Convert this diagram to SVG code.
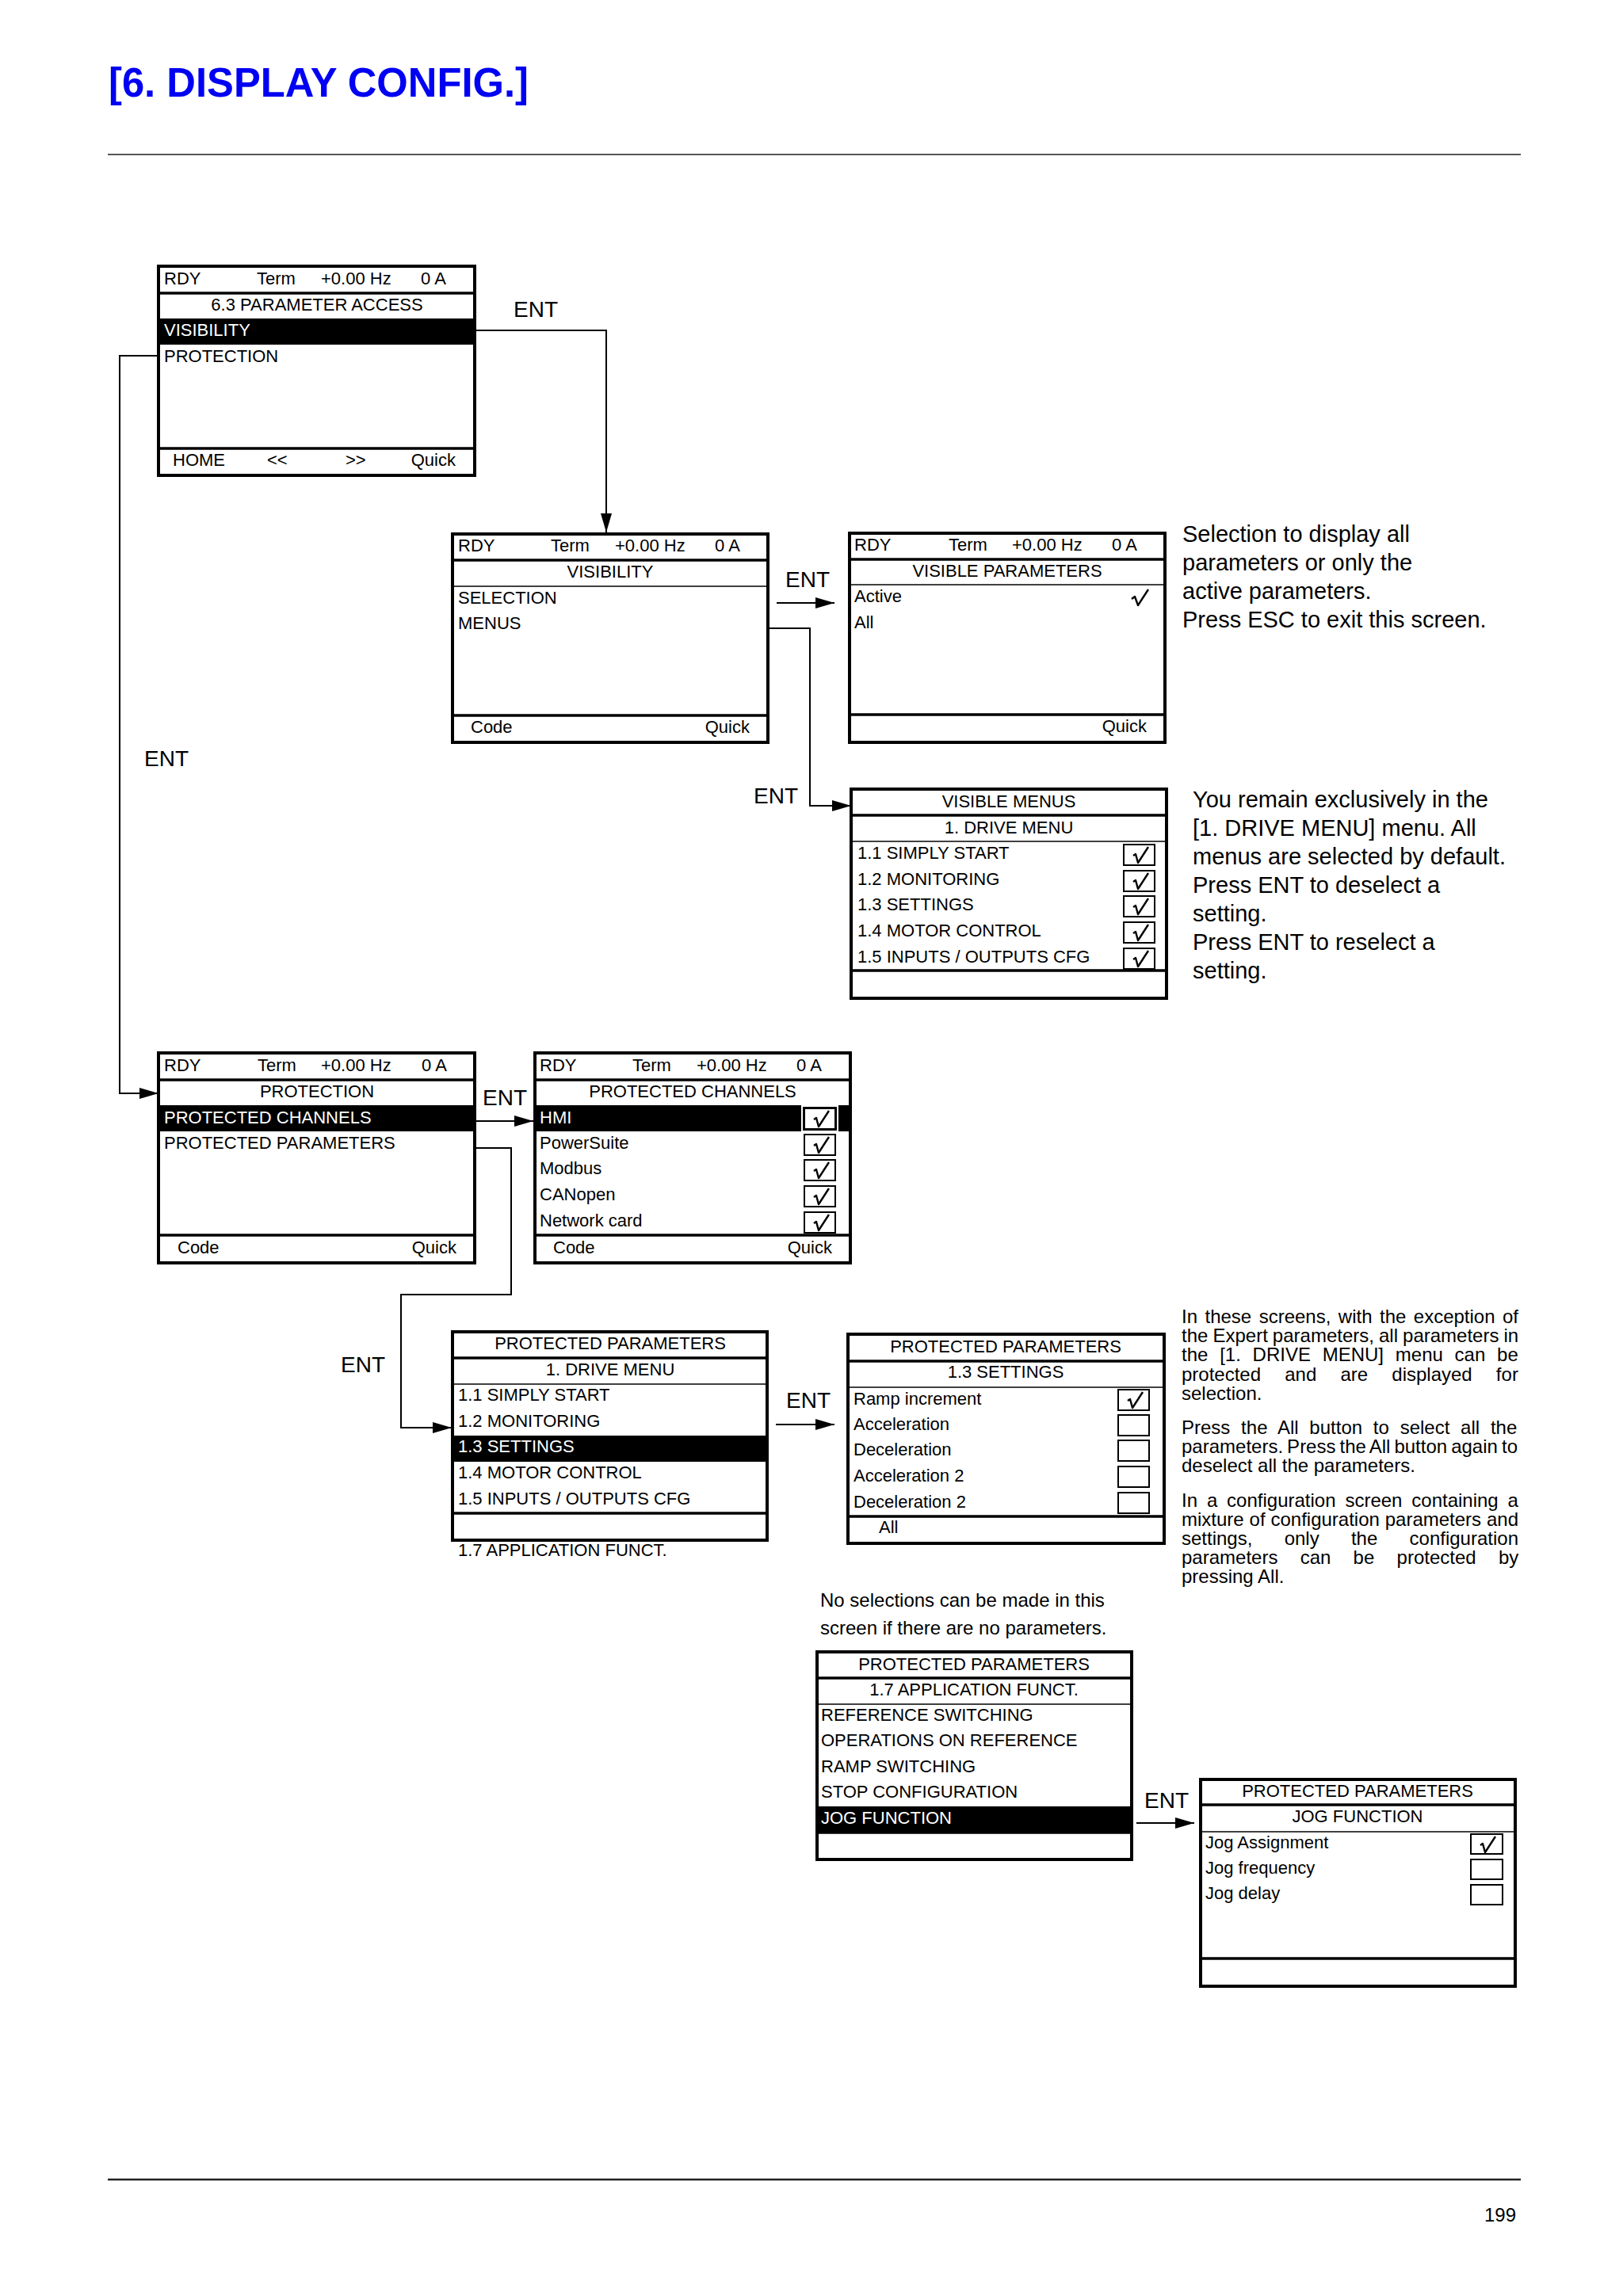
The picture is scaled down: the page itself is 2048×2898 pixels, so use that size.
<svg xmlns="http://www.w3.org/2000/svg" width="2048" height="2898" viewBox="0 0 2048 2898">
<style>
text{font-family:"Liberation Sans",Arial,Helvetica,sans-serif;fill:#000}
.t{font-size:22px}
.w{fill:#fff}
.c{text-anchor:middle}
.e{text-anchor:end}
.scr{fill:#fff;stroke:#000;stroke-width:4}
.thk{stroke:#000;stroke-width:3.5}
.thn{stroke:#000;stroke-width:1.5}
.bar{fill:#000}
.cb{fill:#fff;stroke:#000;stroke-width:2}
.ck{fill:none;stroke:#000;stroke-width:2.4;stroke-linejoin:round}
.ent{font-size:28px}
.note{font-size:29px}
.para{font-size:24px}
.conn{fill:none;stroke:#000;stroke-width:2}
.rule{stroke:#555;stroke-width:2}
</style>
<defs>
<marker id="ah" markerUnits="userSpaceOnUse" markerWidth="26" markerHeight="16" refX="24" refY="7" orient="auto">
<path d="M0,0 L24,7 L0,14 z" fill="#000"/>
</marker>
<path id="chk" d="M12,14 L15,12 L18,23 L31,3"/>
</defs>
<rect width="2048" height="2898" fill="#fff"/>

<g id="page">
<text x="137" y="122" font-size="52" font-weight="bold" style="fill:#0000f2" textLength="530" lengthAdjust="spacingAndGlyphs">[6. DISPLAY CONFIG.]</text>
<line class="rule" x1="136" y1="195" x2="1919" y2="195"/>
<line x1="136" y1="2751" x2="1919" y2="2751" stroke="#222" stroke-width="2.5"/>
<text x="1913" y="2804" font-size="24" class="e">199</text>
</g>

<g id="connectors">
<polyline class="conn" points="599,417 765,417 765,672" marker-end="url(#ah)"/>
<line class="conn" x1="980" y1="761" x2="1053" y2="761" marker-end="url(#ah)"/>
<polyline class="conn" points="969,793 1022,793 1022,1017 1074,1017" marker-end="url(#ah)"/>
<polyline class="conn" points="200,449 151,449 151,1380 200,1380" marker-end="url(#ah)"/>
<line class="conn" x1="599" y1="1415" x2="673" y2="1415" marker-end="url(#ah)"/>
<polyline class="conn" points="599,1449 645,1449 645,1634 506,1634 506,1802 570,1802" marker-end="url(#ah)"/>
<line class="conn" x1="979" y1="1798" x2="1053" y2="1798" marker-end="url(#ah)"/>
<line class="conn" x1="1434" y1="2301" x2="1507" y2="2301" marker-end="url(#ah)"/>
<text class="ent" x="648" y="400">ENT</text>
<text class="ent" x="991" y="741">ENT</text>
<text class="ent" x="951" y="1014">ENT</text>
<text class="ent" x="182" y="967">ENT</text>
<text class="ent" x="609" y="1395">ENT</text>
<text class="ent" x="430" y="1732">ENT</text>
<text class="ent" x="992" y="1777">ENT</text>
<text class="ent" x="1444" y="2282">ENT</text>
</g>

<g id="scr-parameter-access">
<rect class="scr" x="200" y="336" width="399" height="264"/>
<text class="t" x="207" y="359">RDY</text><text class="t" x="324" y="359">Term</text><text class="t" x="405" y="359">+0.00 Hz</text><text class="t" x="531" y="359">0 A</text>
<line class="thk" x1="200" y1="370" x2="599" y2="370"/>
<text class="t c" x="400" y="392">6.3 PARAMETER ACCESS</text>
<rect class="bar" x="200" y="402" width="399" height="33"/>
<text class="t w" x="207" y="424">VISIBILITY</text>
<text class="t" x="207" y="457">PROTECTION</text>
<line class="thk" x1="200" y1="566" x2="599" y2="566"/>
<text class="t" x="218" y="588">HOME</text><text class="t" x="337" y="588">&lt;&lt;</text><text class="t" x="436" y="588">&gt;&gt;</text><text class="t e" x="575" y="588">Quick</text>
</g>

<g id="scr-visibility">
<rect class="scr" x="571" y="674" width="398" height="263"/>
<text class="t" x="578" y="696">RDY</text><text class="t" x="695" y="696">Term</text><text class="t" x="776" y="696">+0.00 Hz</text><text class="t" x="902" y="696">0 A</text>
<line class="thk" x1="571" y1="707" x2="969" y2="707"/>
<text class="t c" x="770" y="729">VISIBILITY</text>
<line class="thn" x1="571" y1="740" x2="969" y2="740"/>
<text class="t" x="578" y="762">SELECTION</text>
<text class="t" x="578" y="794">MENUS</text>
<line class="thk" x1="571" y1="903" x2="969" y2="903"/>
<text class="t" x="594" y="925">Code</text><text class="t e" x="946" y="925">Quick</text>
</g>

<g id="scr-visible-parameters">
<rect class="scr" x="1072" y="673" width="398" height="264"/>
<text class="t" x="1078" y="695">RDY</text><text class="t" x="1197" y="695">Term</text><text class="t" x="1277" y="695">+0.00 Hz</text><text class="t" x="1403" y="695">0 A</text>
<line class="thk" x1="1072" y1="706" x2="1470" y2="706"/>
<text class="t c" x="1271" y="728">VISIBLE PARAMETERS</text>
<line class="thn" x1="1072" y1="738" x2="1470" y2="738"/>
<text class="t" x="1078" y="760">Active</text>
<path class="ck" d="M1428,756 L1432,753 L1436,764 L1449,744"/>
<text class="t" x="1078" y="793">All</text>
<line class="thk" x1="1072" y1="902" x2="1470" y2="902"/>
<text class="t e" x="1447" y="924">Quick</text>
</g>

<g id="note-visible-parameters">
<text class="note" x="1492" y="684">Selection to display all</text>
<text class="note" x="1492" y="720">parameters or only the</text>
<text class="note" x="1492" y="756">active parameters.</text>
<text class="note" x="1492" y="792">Press ESC to exit this screen.</text>
</g>

<g id="scr-visible-menus">
<rect class="scr" x="1074" y="996" width="398" height="264"/>
<text class="t c" x="1273" y="1019">VISIBLE MENUS</text>
<line class="thk" x1="1074" y1="1029" x2="1472" y2="1029"/>
<text class="t c" x="1273" y="1052">1. DRIVE MENU</text>
<line class="thn" x1="1074" y1="1062" x2="1472" y2="1062"/>
<text class="t" x="1082" y="1084">1.1 SIMPLY START</text>
<text class="t" x="1082" y="1117">1.2 MONITORING</text>
<text class="t" x="1082" y="1149">1.3 SETTINGS</text>
<text class="t" x="1082" y="1182">1.4 MOTOR CONTROL</text>
<text class="t" x="1082" y="1215">1.5 INPUTS / OUTPUTS CFG</text>
<rect class="cb" x="1418" y="1066" width="39" height="26"/><use href="#chk" class="ck" x="1418" y="1066"/>
<rect class="cb" x="1418" y="1099" width="39" height="26"/><use href="#chk" class="ck" x="1418" y="1099"/>
<rect class="cb" x="1418" y="1131" width="39" height="26"/><use href="#chk" class="ck" x="1418" y="1131"/>
<rect class="cb" x="1418" y="1164" width="39" height="26"/><use href="#chk" class="ck" x="1418" y="1164"/>
<rect class="cb" x="1418" y="1197" width="39" height="26"/><use href="#chk" class="ck" x="1418" y="1197"/>
<line class="thk" x1="1074" y1="1225" x2="1472" y2="1225"/>
</g>

<g id="note-visible-menus">
<text class="note" x="1505" y="1019">You remain exclusively in the</text>
<text class="note" x="1505" y="1055">[1. DRIVE MENU] menu. All</text>
<text class="note" x="1505" y="1091">menus are selected by default.</text>
<text class="note" x="1505" y="1127">Press ENT to deselect a</text>
<text class="note" x="1505" y="1163">setting.</text>
<text class="note" x="1505" y="1199">Press ENT to reselect a</text>
<text class="note" x="1505" y="1235">setting.</text>
</g>

<g id="scr-protection">
<rect class="scr" x="200" y="1329" width="399" height="265"/>
<text class="t" x="207" y="1352">RDY</text><text class="t" x="325" y="1352">Term</text><text class="t" x="405" y="1352">+0.00 Hz</text><text class="t" x="532" y="1352">0 A</text>
<line class="thk" x1="200" y1="1363" x2="599" y2="1363"/>
<text class="t c" x="400" y="1385">PROTECTION</text>
<rect class="bar" x="200" y="1395" width="399" height="33"/>
<text class="t w" x="207" y="1418">PROTECTED CHANNELS</text>
<text class="t" x="207" y="1450">PROTECTED PARAMETERS</text>
<line class="thk" x1="200" y1="1559" x2="599" y2="1559"/>
<text class="t" x="224" y="1582">Code</text><text class="t e" x="576" y="1582">Quick</text>
</g>

<g id="scr-protected-channels">
<rect class="scr" x="675" y="1329" width="398" height="265"/>
<text class="t" x="681" y="1352">RDY</text><text class="t" x="798" y="1352">Term</text><text class="t" x="879" y="1352">+0.00 Hz</text><text class="t" x="1005" y="1352">0 A</text>
<line class="thk" x1="675" y1="1363" x2="1073" y2="1363"/>
<text class="t c" x="874" y="1385">PROTECTED CHANNELS</text>
<rect class="bar" x="675" y="1395" width="398" height="33"/>
<text class="t w" x="681" y="1418">HMI</text>
<text class="t" x="681" y="1450">PowerSuite</text>
<text class="t" x="681" y="1482">Modbus</text>
<text class="t" x="681" y="1515">CANopen</text>
<text class="t" x="681" y="1548">Network card</text>
<rect x="1012" y="1396" width="45" height="32" fill="none" stroke="#fff" stroke-width="2"/>
<rect class="cb" x="1015" y="1399" width="39" height="26"/><use href="#chk" class="ck" x="1015" y="1399"/>
<rect class="cb" x="1015" y="1432" width="39" height="26"/><use href="#chk" class="ck" x="1015" y="1432"/>
<rect class="cb" x="1015" y="1464" width="39" height="26"/><use href="#chk" class="ck" x="1015" y="1464"/>
<rect class="cb" x="1015" y="1497" width="39" height="26"/><use href="#chk" class="ck" x="1015" y="1497"/>
<rect class="cb" x="1015" y="1530" width="39" height="26"/><use href="#chk" class="ck" x="1015" y="1530"/>
<line class="thk" x1="675" y1="1559" x2="1073" y2="1559"/>
<text class="t" x="698" y="1582">Code</text><text class="t e" x="1050" y="1582">Quick</text>
</g>

<g id="scr-pp-drive-menu">
<rect class="scr" x="571" y="1681" width="397" height="263"/>
<text class="t c" x="770" y="1703">PROTECTED PARAMETERS</text>
<line class="thk" x1="571" y1="1714" x2="968" y2="1714"/>
<text class="t c" x="770" y="1736">1. DRIVE MENU</text>
<line class="thn" x1="571" y1="1747" x2="968" y2="1747"/>
<text class="t" x="578" y="1768">1.1 SIMPLY START</text>
<text class="t" x="578" y="1801">1.2 MONITORING</text>
<rect class="bar" x="571" y="1812" width="397" height="33"/>
<text class="t w" x="578" y="1833">1.3 SETTINGS</text>
<text class="t" x="578" y="1866">1.4 MOTOR CONTROL</text>
<text class="t" x="578" y="1899">1.5 INPUTS / OUTPUTS CFG</text>
<line class="thk" x1="571" y1="1910" x2="968" y2="1910"/>
<text class="t" x="578" y="1964">1.7 APPLICATION FUNCT.</text>
</g>

<g id="scr-pp-settings">
<rect class="scr" x="1070" y="1684" width="399" height="264"/>
<text class="t c" x="1269" y="1707">PROTECTED PARAMETERS</text>
<line class="thk" x1="1070" y1="1718" x2="1469" y2="1718"/>
<text class="t c" x="1269" y="1739">1.3 SETTINGS</text>
<line class="thn" x1="1070" y1="1751" x2="1469" y2="1751"/>
<text class="t" x="1077" y="1773">Ramp increment</text>
<text class="t" x="1077" y="1805">Acceleration</text>
<text class="t" x="1077" y="1837">Deceleration</text>
<text class="t" x="1077" y="1870">Acceleration 2</text>
<text class="t" x="1077" y="1903">Deceleration 2</text>
<rect class="cb" x="1411" y="1754" width="39" height="26"/><use href="#chk" class="ck" x="1411" y="1754"/>
<rect class="cb" x="1411" y="1786" width="39" height="26"/>
<rect class="cb" x="1411" y="1818" width="39" height="26"/>
<rect class="cb" x="1411" y="1851" width="39" height="26"/>
<rect class="cb" x="1411" y="1884" width="39" height="26"/>
<line class="thk" x1="1070" y1="1914" x2="1469" y2="1914"/>
<text class="t" x="1109" y="1935">All</text>
</g>

<g id="note-protected-parameters">
<text class="para" x="1491" y="1670" word-spacing="2.8">In these screens, with the exception of</text>
<text class="para" x="1491" y="1694" word-spacing="-0.6">the Expert parameters, all parameters in</text>
<text class="para" x="1491" y="1718" word-spacing="8.1">the [1. DRIVE MENU] menu can be</text>
<text class="para" x="1491" y="1743" word-spacing="23.5">protected and are displayed for</text>
<text class="para" x="1491" y="1767">selection.</text>
<text class="para" x="1491" y="1810" word-spacing="7.1">Press the All button to select all the</text>
<text class="para" x="1491" y="1834" word-spacing="-1.6">parameters. Press the All button again to</text>
<text class="para" x="1491" y="1858">deselect all the parameters.</text>
<text class="para" x="1491" y="1902" word-spacing="5.2">In a configuration screen containing a</text>
<text class="para" x="1491" y="1926" word-spacing="0.2">mixture of configuration parameters and</text>
<text class="para" x="1491" y="1950" word-spacing="33.6">settings, only the configuration</text>
<text class="para" x="1491" y="1974" word-spacing="21.6">parameters can be protected by</text>
<text class="para" x="1491" y="1998">pressing All.</text>
</g>

<g id="note-no-selection">
<text class="para" x="1035" y="2028">No selections can be made in this</text>
<text class="para" x="1035" y="2063">screen if there are no parameters.</text>
</g>

<g id="scr-pp-application-funct">
<rect class="scr" x="1031" y="2085" width="397" height="262"/>
<text class="t c" x="1229" y="2108">PROTECTED PARAMETERS</text>
<line class="thk" x1="1031" y1="2118" x2="1428" y2="2118"/>
<text class="t c" x="1229" y="2140">1.7 APPLICATION FUNCT.</text>
<line class="thn" x1="1031" y1="2151" x2="1428" y2="2151"/>
<text class="t" x="1036" y="2172">REFERENCE SWITCHING</text>
<text class="t" x="1036" y="2204">OPERATIONS ON REFERENCE</text>
<text class="t" x="1036" y="2237">RAMP SWITCHING</text>
<text class="t" x="1036" y="2269">STOP CONFIGURATION</text>
<rect class="bar" x="1031" y="2280" width="397" height="33"/>
<text class="t w" x="1036" y="2302">JOG FUNCTION</text>
<line class="thk" x1="1031" y1="2313" x2="1428" y2="2313"/>
</g>

<g id="scr-pp-jog-function">
<rect class="scr" x="1515" y="2246" width="397" height="261"/>
<text class="t c" x="1713" y="2268">PROTECTED PARAMETERS</text>
<line class="thk" x1="1515" y1="2278" x2="1912" y2="2278"/>
<text class="t c" x="1713" y="2300">JOG FUNCTION</text>
<line class="thn" x1="1515" y1="2312" x2="1912" y2="2312"/>
<text class="t" x="1521" y="2333">Jog Assignment</text>
<text class="t" x="1521" y="2365">Jog frequency</text>
<text class="t" x="1521" y="2397">Jog delay</text>
<rect class="cb" x="1856" y="2315" width="40" height="25"/><use href="#chk" class="ck" x="1856" y="2315"/>
<rect class="cb" x="1856" y="2347" width="40" height="25"/>
<rect class="cb" x="1856" y="2379" width="40" height="25"/>
<line class="thk" x1="1515" y1="2472" x2="1912" y2="2472"/>
</g>
</svg>
